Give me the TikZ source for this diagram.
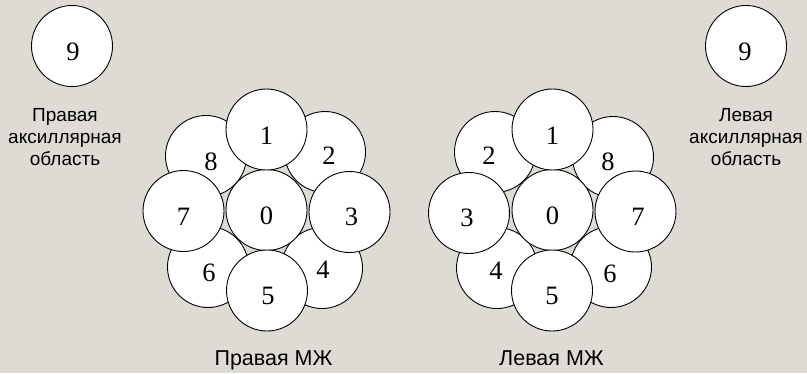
\documentclass[tikz,border=0pt]{standalone}
\usepackage{fontspec}
\setmainfont{Liberation Serif}
\newfontfamily\lsans{Liberation Sans}
\definecolor{bg}{RGB}{222,219,213}
\begin{document}
\begin{tikzpicture}[x=1pt,y=-1pt,
  disc/.style={circle,draw=black,line width=0.9pt,fill=white,minimum size=81pt,inner sep=0pt},
  digit/.style={font=\fontsize{26.5}{26.5}\selectfont,inner sep=0pt},
  side/.style={font=\lsans\fontsize{19}{22}\selectfont,align=center,inner sep=0pt},
  bottom/.style={font=\lsans\fontsize{21.5}{24}\selectfont,anchor=base,inner sep=0pt}]
\fill[bg] (0,0) rectangle (807,373);
\useasboundingbox (0,0) rectangle (807,373);
% axillary circles
\node[disc] (rn9) at (72,46) {};
\node[digit] (rt9) at (73,52) {9};
\node[disc] (ln9) at (746,46) {};
\node[digit] (lt9) at (745,52) {9};
\node[side] (rax) at (65,137) {Правая\\аксиллярная\\область};
\node[side] (lax) at (746,137) {Левая\\аксиллярная\\область};
% right breast (left cluster)
\node[disc] (r8) at (206,156) {};
\node[disc] (r2) at (325,152) {};
\node[disc] (r6) at (208,267) {};
\node[disc] (r4) at (322,268) {};
\node[disc] (r0) at (266.5,210) {};
\node[disc] (r1) at (266.5,129.5) {};
\node[disc] (r7) at (183.5,211) {};
\node[disc] (r3) at (349.5,212) {};
\node[disc] (r5) at (267,290.5) {};
\node[digit] (rl8) at (211,162) {8};
\node[digit] (rl2) at (329,156) {2};
\node[digit] (rl6) at (209,273) {6};
\node[digit] (rl4) at (323,270) {4};
\node[digit] (rl0) at (266.5,216) {0};
\node[digit] (rl1) at (266.5,136) {1};
\node[digit] (rl7) at (183.5,217) {7};
\node[digit] (rl3) at (351.5,217) {3};
\node[digit] (rl5) at (268,296) {5};
% left breast (right cluster)
\node[disc] (l2) at (495,152) {};
\node[disc] (l8) at (613,157) {};
\node[disc] (l4) at (497,268) {};
\node[disc] (l6) at (611,267) {};
\node[disc] (l0) at (552.5,210) {};
\node[disc] (l1) at (552.5,129.5) {};
\node[disc] (l3) at (469,213) {};
\node[disc] (l7) at (635.5,211.5) {};
\node[disc] (l5) at (552,290.5) {};
\node[digit] (ll2) at (489,156) {2};
\node[digit] (ll8) at (608,162) {8};
\node[digit] (ll4) at (496,271) {4};
\node[digit] (ll6) at (610,274) {6};
\node[digit] (ll0) at (552.5,216) {0};
\node[digit] (ll1) at (552.5,136) {1};
\node[digit] (ll3) at (467,218) {3};
\node[digit] (ll7) at (638,217) {7};
\node[digit] (ll5) at (552,296) {5};
% bottom captions
\node[bottom] (rcap) at (273.5,365) {Правая МЖ};
\node[bottom] (lcap) at (551.5,365) {Левая МЖ};
\end{tikzpicture}
\end{document}
